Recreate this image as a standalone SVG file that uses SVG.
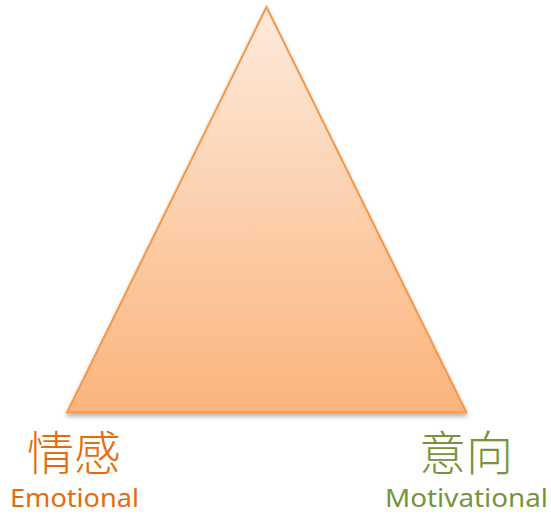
<svg xmlns="http://www.w3.org/2000/svg" width="551" height="514" viewBox="0 0 551 514">
<style>
.cjk{font-family:"Noto Sans CJK SC","Noto Sans CJK TC",sans-serif;font-size:47px;font-weight:300}
.lat{font-family:"Noto Sans","Open Sans",sans-serif;font-size:25px}
.emo{fill:#E46C0A}
.mot{fill:#77933C}
</style>
<defs>
<linearGradient id="g" x1="0" y1="0" x2="0" y2="1">
<stop offset="0" stop-color="#FDEBDD"/>
<stop offset="1" stop-color="#FBB47C"/>
</linearGradient>
<filter id="sh" x="-10%" y="-10%" width="120%" height="125%">
<feGaussianBlur in="SourceAlpha" stdDeviation="2"/>
<feOffset dx="0" dy="3"/>
<feComponentTransfer><feFuncA type="linear" slope="0.3"/></feComponentTransfer>
<feMerge><feMergeNode/><feMergeNode in="SourceGraphic"/></feMerge>
</filter>
</defs>
<g id="triangle">
<polygon points="266.5,7 67,412.5 466.5,412.5" fill="url(#g)" stroke="#F79646" stroke-width="2" stroke-linejoin="miter" filter="url(#sh)"/>
</g>
<g id="emotional">
<text class="cjk emo" x="74" y="470" text-anchor="middle">情感</text>
<text class="lat emo" x="10" y="507" textLength="129" lengthAdjust="spacingAndGlyphs">Emotional</text>
</g>
<g id="motivational">
<text class="cjk mot" x="466" y="470" text-anchor="middle">意向</text>
<text class="lat mot" x="385" y="507" textLength="163" lengthAdjust="spacingAndGlyphs">Motivational</text>
</g>
<g id="connectors"></g>
</svg>
